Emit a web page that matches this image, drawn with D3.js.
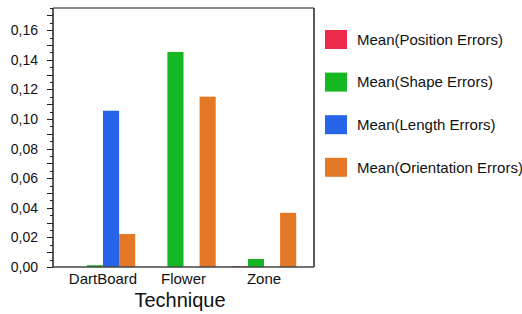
<!DOCTYPE html>
<html>
<head>
<meta charset="utf-8">
<script src="https://cdn.jsdelivr.net/npm/d3@7"></script>
<style>
  html, body { margin: 0; padding: 0; background: #fff; }
  svg { display: block; font-family: "Liberation Sans", Arial, sans-serif; }
</style>
</head>
<body>
<svg id="chart" width="522" height="314"></svg>
<script>
const categories = ["DartBoard", "Flower", "Zone"];
const seriesNames = ["Mean(Position Errors)", "Mean(Shape Errors)", "Mean(Length Errors)", "Mean(Orientation Errors)"];
const seriesColors = ["#EE2A4A", "#15B823", "#2664EA", "#E37826"];
const positionErrors = [0, 0, 0.0005];
const shapeErrors = [0.0012, 0.1453, 0.0054];
const lengthErrors = [0.1056, 0, 0];
const orientationErrors = [0.0223, 0.1151, 0.0366];
const seriesValues = [positionErrors, shapeErrors, lengthErrors, orientationErrors];
const yMax = 0.175;
const yLabelTicks = [0, 0.02, 0.04, 0.06, 0.08, 0.10, 0.12, 0.14, 0.16];
const xTitle = "Technique";

(function () {
const svg = d3.select("#chart");
const pLeft = 53, pRight = 314, pTop = 8, pBottom = 267;

const y = d3.scaleLinear().domain([0, yMax]).range([pBottom, pTop]);
const x = d3.scaleBand().domain(categories).range([pLeft, pRight]).paddingInner(0.2).paddingOuter(0.221);
const xs = d3.scaleBand().domain(d3.range(seriesNames.length)).range([0, x.bandwidth()]);

const loc = d3.formatLocale({decimal: ",", thousands: ".", grouping: [3], currency: ["", ""]});
const fmt = loc.format(".2f");

// bars
const data = [];
categories.forEach((c, ci) => {
  seriesValues.forEach((vals, si) => {
    if (vals[ci] > 0) data.push({c, si, v: vals[ci]});
  });
});
svg.append("g").selectAll("rect").data(data).join("rect")
  .attr("x", d => x(d.c) + xs(d.si))
  .attr("width", xs.bandwidth())
  .attr("y", d => y(d.v))
  .attr("height", d => pBottom - y(d.v))
  .attr("fill", d => seriesColors[d.si]);

// minor / major ticks
const allTicks = d3.range(0, 36).map(i => i * 0.005);
svg.append("g").selectAll("line").data(allTicks).join("line")
  .attr("x1", (d, i) => i % 2 === 0 ? pLeft - 6 : pLeft - 3)
  .attr("x2", pLeft)
  .attr("y1", d => Math.round(y(d)) + 0.5)
  .attr("y2", d => Math.round(y(d)) + 0.5)
  .attr("stroke", "#222")
  .attr("stroke-width", 1);

// y labels
svg.append("g").selectAll("text").data(yLabelTicks).join("text")
  .attr("x", 38)
  .attr("y", d => y(d))
  .attr("dy", "0.36em")
  .attr("text-anchor", "end")
  .attr("font-size", 14)
  .attr("fill", "#111")
  .text(d => fmt(d));

// frame
svg.append("line").attr("x1", pLeft).attr("x2", pRight).attr("y1", pTop).attr("y2", pTop)
  .attr("stroke", "#666").attr("stroke-width", 1.5);
svg.append("line").attr("x1", pRight).attr("x2", pRight).attr("y1", pTop).attr("y2", pBottom)
  .attr("stroke", "#222").attr("stroke-width", 1.5);
svg.append("line").attr("x1", pLeft).attr("x2", pLeft).attr("y1", pTop).attr("y2", pBottom)
  .attr("stroke", "#222").attr("stroke-width", 1.5);
svg.append("line").attr("x1", pLeft).attr("x2", pRight).attr("y1", pBottom).attr("y2", pBottom)
  .attr("stroke", "#444").attr("stroke-width", 1.5);

// category labels
svg.append("g").selectAll("text").data(categories).join("text")
  .attr("x", d => x(d) + x.bandwidth() / 2)
  .attr("y", 283.5)
  .attr("text-anchor", "middle")
  .attr("font-size", 15)
  .attr("fill", "#111")
  .text(d => d);

svg.append("text")
  .attr("x", 180).attr("y", 306.5)
  .attr("text-anchor", "middle")
  .attr("font-size", 20)
  .attr("fill", "#111")
  .text(xTitle);

// legend
const lg = svg.append("g").selectAll("g").data(seriesNames).join("g")
  .attr("transform", (d, i) => `translate(325, ${30 + i * 42.6})`);
lg.append("rect").attr("width", 22).attr("height", 19).attr("fill", (d, i) => seriesColors[i]);
lg.append("text").attr("x", 32).attr("y", 9.5).attr("dy", "0.36em")
  .attr("font-size", 15).attr("fill", "#111").text(d => d);
})();
</script>
</body>
</html>
